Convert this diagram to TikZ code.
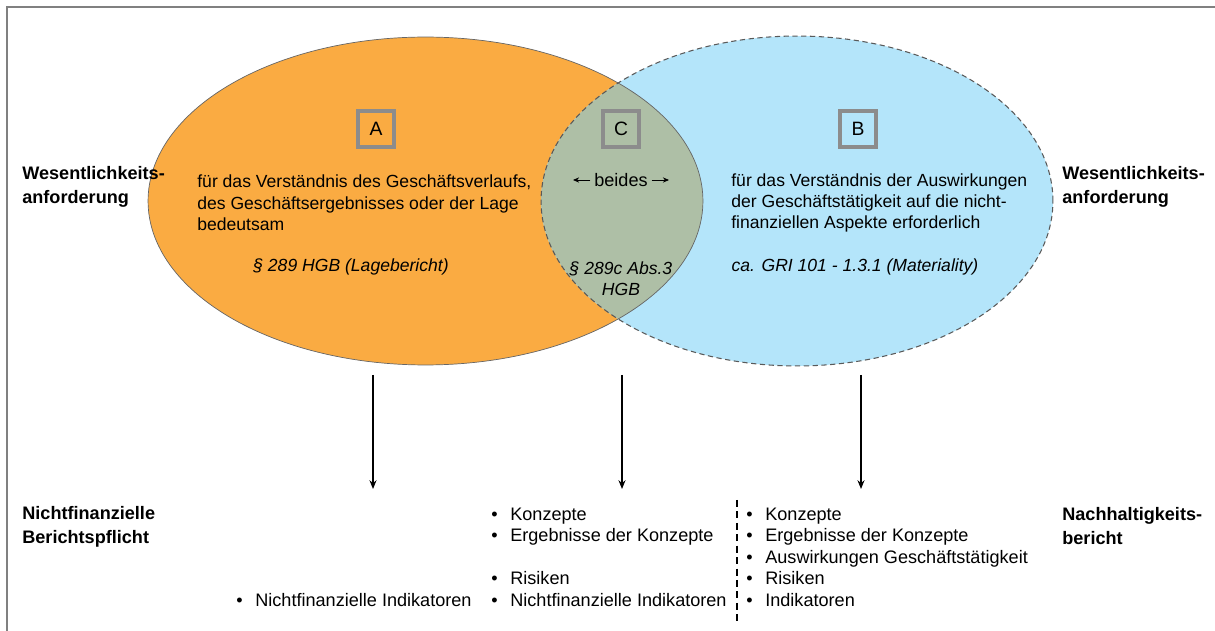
\documentclass[tikz,border=0pt]{standalone}
\usepackage{fontspec}
\setmainfont{Liberation Sans}
\usetikzlibrary{arrows.meta}

\definecolor{lageorange}{RGB}{250,171,66}
\definecolor{wirkblau}{RGB}{180,229,250}
\definecolor{beidesgruen}{RGB}{174,191,166}
\definecolor{kastengrau}{RGB}{140,140,140}
\definecolor{randgrau}{RGB}{128,128,128}
\newcommand{\pkt}{\makebox[10.8pt][l]{\textbullet}}

\begin{document}
\begin{tikzpicture}[x=0.02cm, y=-0.02cm,
	every node/.style={inner sep=0pt, font=\fontsize{10.3}{12.2}\selectfont},
	seite/.style={align=left, anchor=west, font=\bfseries\fontsize{10.3}{13.6}\selectfont},
	fliess/.style={align=left, anchor=west, font=\fontsize{10}{12.2}\selectfont},
	paragraf/.style={align=center, font=\itshape\fontsize{10}{12.2}\selectfont},
	kasten/.style={draw=kastengrau, line width=2.5pt, minimum width=0.72cm, minimum height=0.72cm, font=\fontsize{11}{13}\selectfont},
	pfeil/.style={-{Stealth[length=5pt, width=4pt]}, line width=0.7pt},
	kleinpfeil/.style={-{Stealth[length=3.5pt, width=3pt]}, line width=0.5pt}]
	
	\useasboundingbox (0,0) rectangle (1215,631);
	\draw[randgrau, line width=1.1pt] (7,631) -- (7,7) -- (1215,7);
	
	% Mengen
	\coordinate (lagemitte) at (425.5,201);
	\coordinate (wirkmitte) at (797,201);
	\fill[lageorange] (lagemitte) ellipse [x radius=5.55cm, y radius=3.28cm];
	\fill[wirkblau] (wirkmitte) ellipse [x radius=5.12cm, y radius=3.30cm];
	\begin{scope}
		\clip (lagemitte) ellipse [x radius=5.55cm, y radius=3.28cm];
		\fill[beidesgruen] (wirkmitte) ellipse [x radius=5.12cm, y radius=3.30cm];
	\end{scope}
	\draw[black!60, line width=0.4pt] (lagemitte) ellipse [x radius=5.55cm, y radius=3.28cm];
	\draw[black!65, line width=0.6pt, dash pattern=on 3pt off 2pt] (wirkmitte) ellipse [x radius=5.12cm, y radius=3.30cm];
	
	\node[kasten] (kastenA) at (376,129) {A};
	\node[kasten] (kastenC) at (621,129) {C};
	\node[kasten] (kastenB) at (858,129) {B};
	
	\node[seite] (wesenlinks) at (22,187) {Wesentlichkeits-\\anforderung};
	\node[seite] (wesenrechts) at (1062,187) {Wesentlichkeits-\\anforderung};
	\node[seite] (pflicht) at (22,527) {Nichtfinanzielle\\Berichtspflicht};
	\node[seite] (nachhaltig) at (1062,526) {Nachhaltigkeits-\\bericht};
	
	\node[fliess] (lagetext) at (197,203) {für das Verständnis des Geschäftsverlaufs,\\des Geschäftsergebnisses oder der Lage\\bedeutsam};
	\node[paragraf] (lagenorm) at (351,267) {§ 289 HGB (Lagebericht)};
	
	\node (beides) at (621,180) {beides};
	\coordinate (beidesL) at (573,180);
	\coordinate (beidesR) at (669,180);
	\draw[kleinpfeil, shorten <=2pt] (beides.west) -- (beidesL);
	\draw[kleinpfeil, shorten <=2pt] (beides.east) -- (beidesR);
	\node[paragraf] (beidesnorm) at (621,279) {§ 289c Abs.3\\HGB};
	
	\node[fliess] (wirktext) at (731,203) {für das Verständnis der Auswirkungen\\der Geschäftstätigkeit auf die nicht-\\finanziellen Aspekte erforderlich};
	\node[paragraf] (wirknorm) at (855,267) {ca. GRI 101 - 1.3.1 (Materiality)};
	
	% Pfeile nach unten
	\coordinate (lageunten) at (373,375);
	\coordinate (lageziel) at (373,489);
	\coordinate (beidesunten) at (622,375);
	\coordinate (beidesziel) at (622,489);
	\coordinate (wirkunten) at (861,375);
	\coordinate (wirkziel) at (861,489);
	\draw[pfeil] (lageunten) -- (lageziel);
	\draw[pfeil] (beidesunten) -- (beidesziel);
	\draw[pfeil] (wirkunten) -- (wirkziel);
	
	% Inhalte
	\node[fliess, font=\fontsize{10.3}{12.2}\selectfont] (listelinks) at (236,600) {\pkt Nichtfinanzielle Indikatoren};
	\node[fliess, font=\fontsize{10.3}{12.2}\selectfont] (listemitte) at (491,557) {\pkt Konzepte\\\pkt Ergebnisse der Konzepte\\[12.2pt]\pkt Risiken\\\pkt Nichtfinanzielle Indikatoren};
	\node[fliess, font=\fontsize{10.3}{12.2}\selectfont] (listerechts) at (746,557) {\pkt Konzepte\\\pkt Ergebnisse der Konzepte\\\pkt Auswirkungen Geschäftstätigkeit\\\pkt Risiken\\\pkt Indikatoren};
	
	\coordinate (trennoben) at (737,500);
	\coordinate (trennunten) at (737,623);
	\draw[line width=1.1pt, dash pattern=on 4pt off 2.5pt] (trennoben) -- (trennunten);
	
\end{tikzpicture}
\end{document}
